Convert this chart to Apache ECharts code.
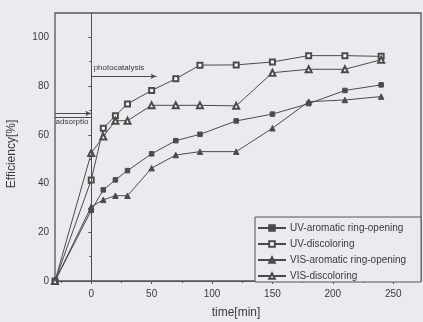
<!DOCTYPE html>
<html><head><meta charset="utf-8">
<script src="https://cdn.jsdelivr.net/npm/echarts@6/dist/echarts.min.js"></script>
<style>html,body{margin:0;padding:0;background:#e9ebee;}#c{width:423px;height:322px;}</style>
</head><body><div id="c"></div>
<script>
var times = [-30, 0, 10, 20, 30, 50, 70, 90, 120, 150, 180, 210, 240];
var uvAromatic = [0, 29, 37.4, 41.5, 45.3, 52.2, 57.6, 60.2, 65.7, 68.5, 72.8, 78.2, 80.5];
var uvDiscoloring = [0, 41.5, 62.7, 67.8, 72.7, 78.2, 83, 88.6, 88.7, 89.9, 92.5, 92.5, 92.2];
var visAromatic = [0, 30.5, 33.3, 35, 35, 46.3, 51.7, 53.1, 53.1, 62.7, 73.6, 74.3, 75.7];
var visDiscoloring = [0, 52.5, 59.3, 65.8, 65.8, 72.1, 72.1, 72.1, 71.9, 85.5, 86.9, 86.9, 90.8];
var seriesNames = ['UV-aromatic ring-opening', 'UV-discoloring', 'VIS-aromatic ring-opening', 'VIS-discoloring'];
var xTickLabels = [0, 50, 100, 150, 200, 250];
var xMinorTicks = [-25, 25, 75, 125, 175, 225];
var yTickLabels = [0, 20, 40, 60, 80, 100];
var yMinorTicks = [10, 30, 50, 70, 90];

var ink = '#4b4b4b';
function pairs(v){ return times.map(function(t,i){ return [t, v[i]]; }); }
function mk(name, vals, sym, size){
  return {name:name, type:'line', data:pairs(vals), symbol:sym, symbolSize:size, showAllSymbol:true,
    lineStyle:{color:ink, width:1}, itemStyle:{color: ink, borderColor: ink, borderWidth:1},
    emphasis:{disabled:true}, animation:false, z:3};
}
var chart = echarts.init(document.getElementById('c'));
var txt = {fontFamily:'Liberation Sans', color:'#3a3a3a'};
chart.setOption({
  backgroundColor:'#e9ebee',
  animation:false,
  grid:{left:55, right:2, top:13, bottom:41, show:true, borderColor:'#555', borderWidth:1.3, backgroundColor:'transparent'},
  xAxis:[{type:'value', min:-30, max:273, splitLine:{show:false},
    axisLine:{onZero:false, lineStyle:{color:'#555'}},
    axisTick:{customValues:xTickLabels, length:3, lineStyle:{color:'#555'}},
    axisLabel:Object.assign({customValues:xTickLabels, fontSize:10, margin:8}, txt)},
   {type:'value', min:-30, max:273, position:'bottom', splitLine:{show:false},
    axisLine:{show:false}, axisTick:{customValues:xMinorTicks, length:2, lineStyle:{color:'#555'}},
    axisLabel:{show:false}}],
  yAxis:[{type:'value', min:0, max:110, splitLine:{show:false},
    axisLine:{show:true, lineStyle:{color:'#555'}},
    axisTick:{show:true, customValues:yTickLabels, length:3, lineStyle:{color:'#555'}},
    axisLabel:Object.assign({customValues:yTickLabels, fontSize:10, margin:6}, txt)},
   {type:'value', min:0, max:110, position:'left', splitLine:{show:false},
    axisLine:{show:false}, axisTick:{show:true, customValues:yMinorTicks, length:2, lineStyle:{color:'#555'}},
    axisLabel:{show:false}}],
  legend:{data:seriesNames, orient:'vertical', left:257, top:223, itemWidth:28, itemHeight:7, itemGap:6,
    padding:0, textStyle:Object.assign({fontSize:10, padding:[0,0,0,-1]}, txt), inactiveColor:ink},
  graphic:[
    {type:'rect', shape:{x:255, y:217, width:166, height:65}, style:{fill:'#e9ebee', stroke:'#555', lineWidth:1}, z:1},
    {type:'text', x:12, y:154, rotation:Math.PI/2, style:Object.assign({text:'Efficiency[%]', fontSize:12, textAlign:'center', textVerticalAlign:'middle', fill:'#3a3a3a', fontFamily:'Liberation Sans'})},
    {type:'text', x:236, y:313, style:{text:'time[min]', fontSize:12, textAlign:'center', textVerticalAlign:'middle', fill:'#3a3a3a', fontFamily:'Liberation Sans'}}
  ],
  series:[
    mk(seriesNames[0], uvAromatic, 'rect', 4.5),
    mk(seriesNames[1], uvDiscoloring, 'emptyRect', 5),
    mk(seriesNames[2], visAromatic, 'triangle', 5.5),
    mk(seriesNames[3], visDiscoloring, 'emptyTriangle', 6),
    {type:'line', data:[], silent:true, animation:false,
      markLine:{silent:true, symbol:['none','none'], label:{show:false}, lineStyle:{color:ink, width:1, type:'solid'},
        data:[
          [{coord:[0,0], symbol:'none'},{coord:[0,88], symbol:'none'}],
          [{coord:[0,84], symbol:'none'},{coord:[54,84], symbol:'arrow', symbolSize:[4,6]}],
          [{coord:[-30,68.8], symbol:'none'},{coord:[0,68.8], symbol:'arrow', symbolSize:[4,6]}],
          [{coord:[-30,67.1], symbol:'none'},{coord:[0,67.1], symbol:'none'}]
        ]},
      markPoint:{silent:true, symbol:'circle', symbolSize:0,
        label:{show:true, position:'right', distance:0, fontSize:8, fontFamily:'Liberation Sans', color:'#3a3a3a', formatter:function(p){return p.name;}},
        data:[{name:'photocatalysis', coord:[2,87.5]},{name:'adsorptio', coord:[-29.5,65.2]}]}
    }
  ]
});
</script></body></html>
